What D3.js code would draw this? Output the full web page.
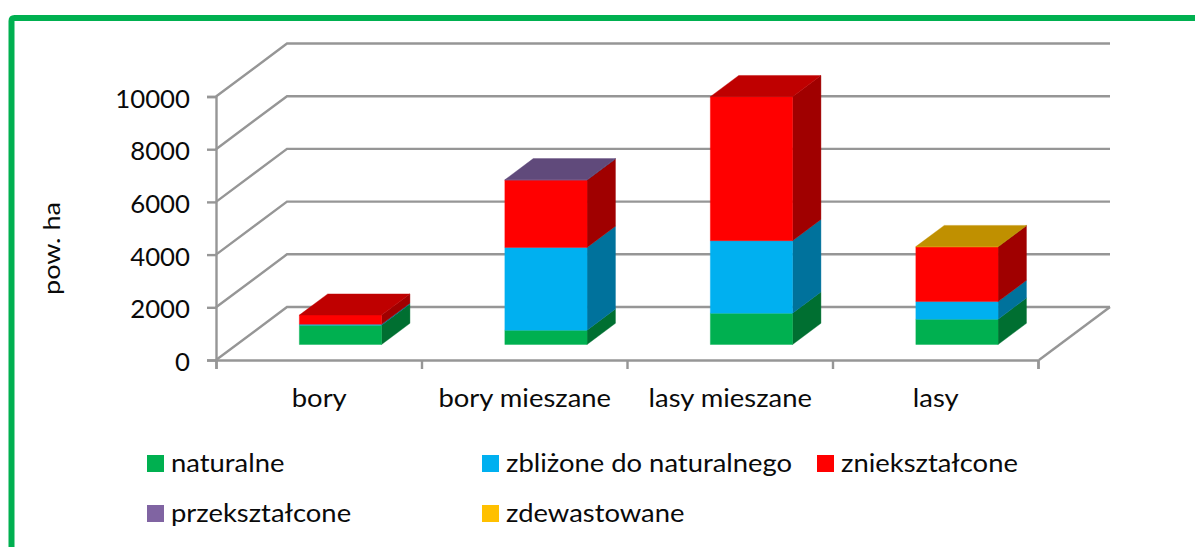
<!DOCTYPE html>
<html><head><meta charset="utf-8">
<script src="https://cdn.jsdelivr.net/npm/d3@7/dist/d3.min.js"></script>
<style>html,body{margin:0;padding:0;background:#fff}svg{display:block}text{font-family:Lato,"Open Sans",sans-serif;fill:#0a0a0a}</style>
</head><body><svg id="c" width="1195" height="547"></svg>
<script>
const categories = ["bory","bory mieszane","lasy mieszane","lasy"];
const seriesNames = ["naturalne","zbliżone do naturalnego","zniekształcone","przekształcone","zdewastowane"];
const naturalne = [735,545,1190,960];
const zblizone = [30,3140,2750,670];
const znieksztalcone = [350,2555,5465,2075];
const przeksztalcone = [0,10,0,0];
const zdewastowane = [0,0,0,10];
const yTicks = [0,2000,4000,6000,8000,10000];
const frontColors = ["#00b050","#00b0f0","#ff0000","#8064a2","#ffc000"];
const sideColors = ["#006f31","#00729c","#a00000","#4f3c66","#a07800"];
const topColors = ["#008a3e","#008cc0","#bf0000","#604a7b","#c09000"];
const legendCols = [147,482,817];
const legendRows = [463.5,513.5];

const svg = d3.select("#c");
svg.append("path").attr("d","M11.5,547V21Q11.5,18 14.5,18H1195").attr("fill","none").attr("stroke","#00b050").attr("stroke-width",6);

const x = d3.scaleBand().domain(categories).range([216,1038]).paddingInner(0.6).paddingOuter(0.3);
const y = d3.scaleLinear().domain([0,10000]).range([360,96.5]);
const depthX = d3.scaleLinear().domain([0,1]).range([0,71]);
const depthY = d3.scaleLinear().domain([0,1]).range([0,-53]);
const P=(px,v,d)=>[px+depthX(d),y(v)+depthY(d)];
const grid="#969696";
const line=d3.line();
const walls=svg.append("g").attr("fill","none").attr("stroke",grid);
yTicks.forEach(t=>{
  walls.append("path").attr("stroke-width",2.4).attr("d",line([P(216,t,0),P(216,t,1),P(1039,t,1)]));
});
walls.append("path").attr("stroke-width",2.4).attr("d",line([P(1039,0,0),P(1039,0,1)]));

// stretch helper: the reference text is wider than the installed face
const stretch=(sel,f)=>sel.each(function(){const s=d3.select(this);s.attr("textLength",this.getComputedTextLength()*f).attr("lengthAdjust","spacingAndGlyphs");});

const yAxis=d3.axisLeft(y).tickValues(yTicks).tickFormat(d3.format("d")).tickSize(9).tickPadding(17);
const gy=svg.append("g").attr("transform","translate(216,0)").call(yAxis);
gy.selectAll("path,line").attr("stroke",grid).attr("stroke-width",2.4);
gy.selectAll("text").attr("font-size",25).attr("font-family","Lato").attr("dy","0.42em");
stretch(gy.selectAll("text"),1.03);
const edges=d3.scaleLinear().domain([0,4]).range([216,1038]);
const xEdge=svg.append("g").attr("transform","translate(0,360)").call(d3.axisBottom(edges).tickValues([0,1,2,3,4]).tickFormat("").tickSize(9));
xEdge.selectAll("path,line").attr("stroke",grid).attr("stroke-width",2.4);
const xLab=svg.append("g").attr("transform","translate(0,360)").call(d3.axisBottom(d3.scalePoint().domain(categories).range([318.75,935.25])).tickSize(0).tickPadding(29));
xLab.select("path").remove();
xLab.selectAll("text").attr("font-size",25).attr("font-family","Lato");
stretch(xLab.selectAll("text"),1.096);

const seriesVals=[naturalne,zblizone,znieksztalcone,przeksztalcone,zdewastowane];
const d0=0.3,d1=0.7;
const barsG=svg.append("g").attr("transform","translate(0,0.4)");
const poly=(pts,c)=>barsG.append("polygon").attr("points",pts.map(p=>p.join(",")).join(" ")).attr("fill",c).attr("stroke",c).attr("stroke-width",0.4);
categories.forEach((c,i)=>{
  const L=x(c)+0.4,R=L+x.bandwidth();
  let base=0,topIdx=0;
  seriesVals.forEach((s,k)=>{
    const v=s[i]; if(!v)return;
    const t=base+v;
    poly([P(R,base,d0),P(R,base,d1),P(R,t,d1),P(R,t,d0)],sideColors[k]);
    poly([P(L,base,d0),P(R,base,d0),P(R,t,d0),P(L,t,d0)],frontColors[k]);
    base=t;topIdx=k;
  });
  poly([P(L,base,d0),P(R,base,d0),P(R,base,d1),P(L,base,d1)],topColors[topIdx]);
});

const yt=svg.append("text").attr("transform","translate(60,248.5) rotate(-90)").attr("text-anchor","middle").attr("font-size",24).text("pow. ha");
stretch(yt,1.13);

seriesNames.forEach((n,i)=>{
  const cx=legendCols[i%3], cy=legendRows[Math.floor(i/3)];
  const g=svg.append("g").attr("transform",`translate(${cx},${cy})`);
  g.append("rect").attr("x",0).attr("y",-8.5).attr("width",17).attr("height",17).attr("fill",frontColors[i]);
  const t=g.append("text").attr("x",24).attr("y",8).attr("font-size",25).text(n);
  stretch(t,1.096);
});
</script></body></html>
